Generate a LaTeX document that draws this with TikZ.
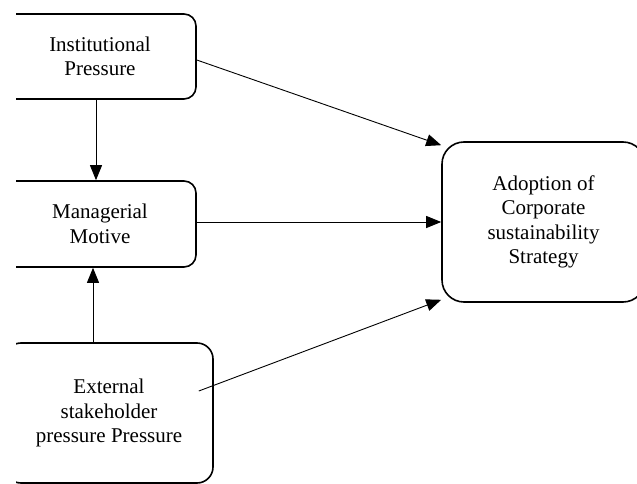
\documentclass[tikz,border=0pt]{standalone}
\usepackage{fontspec}
\setmainfont{Liberation Serif}
\usetikzlibrary{arrows.meta}
\begin{document}
\begin{tikzpicture}[x=1pt,y=-1pt,
  box/.style={draw, line width=1.6pt, inner sep=0pt, align=center,
    font=\fontsize{21}{24.5}\selectfont},
  conn/.style={line width=0.9pt, -{Triangle[length=15pt,width=12pt]}}]
\useasboundingbox (0,0) rectangle (637,484);
\clip (16,-5) rectangle (642,489);
\node[box, rounded corners=12pt, minimum width=192pt, minimum height=85pt] (inst) at (100,56.5) {Institutional\\Pressure};
\node[box, rounded corners=12pt, minimum width=192pt, minimum height=86pt] (mgr) at (100,224) {Managerial\\Motive};
\node[box, rounded corners=16pt, minimum width=208pt, minimum height=140pt] (ext) at (109,413) {External\\stakeholder\\pressure Pressure};
\node[box, rounded corners=22pt, minimum width=203pt, minimum height=160pt] (adopt) at (543.5,222) {Adoption of\\Corporate\\sustainability\\Strategy};
\draw[conn] ([yshift=-3.5pt]inst.east) -- ([yshift=-4pt]adopt.north west);
\draw[conn] ([yshift=2pt]mgr.east) -- ([yshift=2pt]mgr.east -| adopt.west);
\draw[conn] ([xshift=-15pt,yshift=22pt]ext.east) -- ([yshift=3pt]adopt.south west);
\draw[conn] ([xshift=-4pt]inst.south) -- ([xshift=-4pt]mgr.north);
\draw[conn] ([xshift=-16pt]ext.north) -- ([xshift=-16pt]ext.north |- mgr.south);
\end{tikzpicture}
\end{document}
